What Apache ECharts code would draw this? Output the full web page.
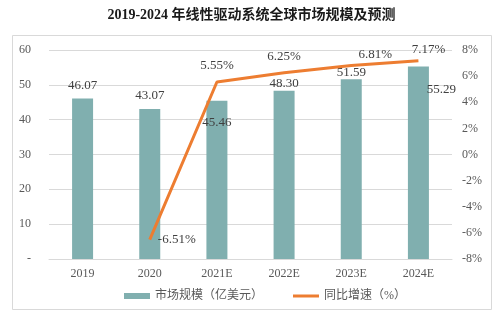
<!DOCTYPE html>
<html><head><meta charset="utf-8">
<script src="https://cdn.jsdelivr.net/npm/echarts@6/dist/echarts.min.js"></script>
<style>html,body{margin:0;padding:0;background:#fff}#c{width:503px;height:321px}</style>
</head><body><div id="c"></div>
<script>
const categories = ['2019','2020','2021E','2022E','2023E','2024E'];
const marketSize = [46.07, 43.07, 45.46, 48.30, 51.59, 55.29];
const growthRate = ['-', -6.51, 5.55, 6.25, 6.81, 7.17];
const leftTicks = [0, 10, 20, 30, 40, 50, 60];
const rightTicks = [-8, -6, -4, -2, 0, 2, 4, 6, 8];

const serif = '"Liberation Serif", "Noto Sans CJK SC", serif';
const barLabelStyle = [
  {position:'top', distance:6},
  {position:'top', distance:7},
  {position:'insideTop', distance:15},
  {position:'top', distance:1},
  {position:'top', distance:0},
  {position:'insideTopRight', offset:[32,12]}
];
const lineLabelStyle = [
  null,
  {position:'right', distance:8},
  {position:'top', distance:10},
  {position:'top', distance:10},
  {position:'top', offset:[24,0], distance:4},
  {position:'top', offset:[10,0], distance:5}
];

const chart = echarts.init(document.getElementById('c'));
chart.setOption({
  animation:false,
  backgroundColor:'#fff',
  title:{text:'2019-2024 年线性驱动系统全球市场规模及预测', left:'center', top:3,
    textStyle:{fontFamily:serif, fontWeight:'bold', fontSize:14, color:'#1a1a1a'}},
  graphic:[{type:'rect', shape:{x:12.5,y:35.5,width:479,height:274}, style:{fill:'none', stroke:'#d9d9d9', lineWidth:1}, silent:true, z:-1}],
  grid:{left:49, right:51, top:50, bottom:62},
  legend:{bottom:14, left:119, itemGap:30, itemWidth:26, itemHeight:6,
    textStyle:{fontFamily:serif, fontSize:12, color:'#595959'},
    data:[{name:'市场规模（亿美元）', icon:'rect'},
          {name:'同比增速（%）', icon:'path://M0,0 L26,0 L26,3 L0,3 Z', itemStyle:{color:'#ED7D31'}}]},
  xAxis:{type:'category', data:categories,
    axisLine:{lineStyle:{color:'#d9d9d9'}}, axisTick:{show:false},
    axisLabel:{fontFamily:serif, fontSize:12, color:'#595959', margin:9}},
  yAxis:[
    {type:'value', min:leftTicks[0], max:leftTicks[leftTicks.length-1], interval:10,
     axisLine:{show:false}, axisTick:{show:false},
     splitLine:{lineStyle:{color:'#d9d9d9'}},
     axisLabel:{fontFamily:serif, fontSize:12, color:'#595959', margin:18,
       formatter:v=> v===0 ? '-' : String(v)}},
    {type:'value', min:rightTicks[0], max:rightTicks[rightTicks.length-1], interval:2,
     axisLine:{show:false}, axisTick:{show:false}, splitLine:{show:false},
     axisLabel:{fontFamily:serif, fontSize:12, color:'#595959', margin:10,
       formatter:v=> v+'%'}}
  ],
  series:[
    {name:'市场规模（亿美元）', type:'bar', barWidth:21, itemStyle:{color:'#80AFAF'},
     data: marketSize.map((v,i)=>({value:v, label:Object.assign({show:true}, barLabelStyle[i])})),
     label:{show:true, fontFamily:serif, fontSize:13, color:'#404040', formatter:p=>p.value.toFixed(2)}},
    {name:'同比增速（%）', type:'line', yAxisIndex:1, showSymbol:true, symbol:'circle', symbolSize:0.1,
     lineStyle:{color:'#ED7D31', width:3}, itemStyle:{color:'#ED7D31'},
     data: growthRate.map((v,i)=> v==='-' ? '-' : ({value:v, label:Object.assign({show:true}, lineLabelStyle[i])})),
     label:{show:true, fontFamily:serif, fontSize:13, color:'#404040', formatter:p=>p.value.toFixed(2)+'%'}}
  ]
});
</script></body></html>
